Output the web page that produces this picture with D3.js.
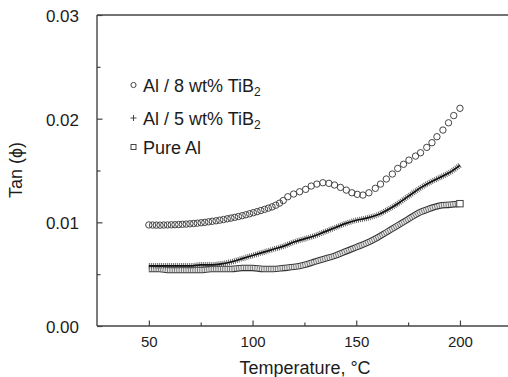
<!DOCTYPE html>
<html>
<head>
<meta charset="utf-8">
<script src="https://cdn.jsdelivr.net/npm/d3@7"></script>
<style>
  html, body { margin: 0; padding: 0; background: #fff; }
  svg { display: block; font-family: "Liberation Sans", Arial, sans-serif; }
</style>
</head>
<body>
<svg id="chart" width="508" height="377"></svg>
<script>
// Loss tangent vs temperature for Al and Al/TiB2 composites

// Al / 8 wt% TiB2 (open circles)
const tempsAl8 = [50.0, 51.8, 53.6, 55.4, 57.2, 59.0, 60.8, 62.6, 64.4, 66.2, 68.0, 69.8, 71.6, 73.4,
  75.2, 77.0, 78.8, 80.6, 82.4, 84.2, 86.0, 87.8, 89.6, 91.4, 93.2, 95.0, 96.8, 98.6, 100.4, 102.2,
  104.0, 105.8, 107.6, 109.4, 111.2, 113.0, 114.8, 117.0, 119.8, 122.7, 125.6, 128.3, 131.0, 133.9,
  136.8, 139.5, 142.4, 145.2, 147.9, 150.5, 153.2, 156.1, 159.2, 161.7, 164.5, 167.4, 170.0, 172.8,
  175.4, 178.6, 181.0, 184.0, 186.5, 188.9, 191.8, 194.5, 197.0, 200.0];
const tanAl8 = [0.00975, 0.00974, 0.00973, 0.00973, 0.00974, 0.00975, 0.00976, 0.00977, 0.00979,
  0.00981, 0.00983, 0.00986, 0.00989, 0.00992, 0.00996, 0.01000, 0.01005, 0.01010, 0.01015, 0.01021,
  0.01027, 0.01034, 0.01041, 0.01048, 0.01056, 0.01064, 0.01073, 0.01083, 0.01093, 0.01103, 0.01114,
  0.01125, 0.01137, 0.01149, 0.01165, 0.01185, 0.01210, 0.01247, 0.01273, 0.01295, 0.01318, 0.01350,
  0.01369, 0.01382, 0.01376, 0.01360, 0.01337, 0.01311, 0.01285, 0.01270, 0.01263, 0.01285, 0.01328,
  0.01369, 0.01418, 0.01466, 0.01520, 0.01560, 0.01600, 0.01639, 0.01671, 0.01723, 0.01768, 0.01826,
  0.01890, 0.01960, 0.02030, 0.02100];

// Al / 5 wt% TiB2 (plus signs)
const tempsAl5 = [50, 55, 60, 65, 70, 75, 80, 85, 90, 95, 100, 105, 110, 115, 120, 125, 130, 135,
  140, 145, 150, 155, 160, 165, 170, 175, 180, 185, 190, 195, 200];
const tanAl5 = [0.0058, 0.0058, 0.0058, 0.0058, 0.0058, 0.0059, 0.0059, 0.0060, 0.0062, 0.0065,
  0.0068, 0.0071, 0.0074, 0.0077, 0.0081, 0.0084, 0.0087, 0.0091, 0.0095, 0.0099, 0.0102, 0.0104,
  0.0107, 0.0112, 0.0118, 0.0125, 0.0132, 0.0138, 0.0143, 0.0148, 0.0155];

// Pure Al (open squares)
const tempsPure = [50, 55, 60, 65, 70, 75, 80, 85, 90, 95, 100, 105, 110, 115, 120, 125, 130, 135,
  140, 145, 150, 155, 160, 165, 170, 175, 180, 185, 190, 195, 200];
const tanPure = [0.0055, 0.0055, 0.0054, 0.0054, 0.0054, 0.0054, 0.0055, 0.0055, 0.0055, 0.0056,
  0.0056, 0.0055, 0.0055, 0.0056, 0.0057, 0.0059, 0.0062, 0.0065, 0.0068, 0.0072, 0.0076, 0.0080,
  0.0085, 0.0091, 0.0097, 0.0103, 0.0109, 0.0113, 0.0116, 0.0117, 0.0118];

const xTickValues = [50, 100, 150, 200];
const xMinorTicks = [75, 125, 175];
const yTickValues = [0, 0.01, 0.02, 0.03];
const yTickLabels = ["0.00", "0.01", "0.02", "0.03"];
const yMinorTicks = [0.005, 0.015, 0.025];

const legendLabels = ["Al / 8 wt% TiB", "Al / 5 wt% TiB", "Pure Al"];
const legendSubs = ["2", "2", ""];

const svg = d3.select("#chart");
const W = 508;
const plotLeft = 97, plotTop = 15, plotBottom = 326;

const x = d3.scaleLinear().domain([25, 225]).range([plotLeft, plotLeft + 200 * 2.074]);
const y = d3.scaleLinear().domain([0, 0.03]).range([plotBottom, plotTop]);

const ink = "#444";
const textColor = "#1c1c1c";

// axis frame: left, bottom and top lines
const gAxes = svg.append("g");
gAxes.append("line").attr("x1", plotLeft).attr("x2", plotLeft).attr("y1", plotTop).attr("y2", plotBottom)
  .attr("stroke", ink).attr("stroke-width", 1.4);
gAxes.append("line").attr("x1", plotLeft).attr("x2", W).attr("y1", plotBottom).attr("y2", plotBottom)
  .attr("stroke", ink).attr("stroke-width", 1.4);
gAxes.append("line").attr("x1", plotLeft).attr("x2", W).attr("y1", plotTop).attr("y2", plotTop)
  .attr("stroke", ink).attr("stroke-width", 1.4);

// x axis ticks (inward) and labels
const xAxis = d3.axisBottom(x).tickValues(xTickValues).tickSize(-5.5).tickFormat(d3.format("d"));
const gx = svg.append("g").attr("transform", `translate(0,${plotBottom})`).call(xAxis);
gx.select(".domain").remove();
gx.selectAll(".tick line").attr("stroke", ink).attr("stroke-width", 1.2);
gx.selectAll(".tick text").attr("fill", textColor).attr("font-size", 15)
  .attr("font-family", "Liberation Sans, Arial, sans-serif").attr("dy", 0).attr("y", 21);
const gxm = svg.append("g").attr("transform", `translate(0,${plotBottom})`)
  .call(d3.axisBottom(x).tickValues(xMinorTicks).tickSize(-3.5).tickFormat(""));
gxm.select(".domain").remove();
gxm.selectAll(".tick line").attr("stroke", ink).attr("stroke-width", 1.2);

// y axis ticks (inward) and labels
const yAxis = d3.axisLeft(y).tickValues(yTickValues).tickSize(-5.5)
  .tickFormat((d, i) => yTickLabels[i]);
const gy = svg.append("g").attr("transform", `translate(${plotLeft},0)`).call(yAxis);
gy.select(".domain").remove();
gy.selectAll(".tick line").attr("stroke", ink).attr("stroke-width", 1.2);
gy.selectAll(".tick text").attr("fill", textColor).attr("font-size", 17)
  .attr("font-family", "Liberation Sans, Arial, sans-serif").attr("x", -18).attr("dy", "0.38em");
const gym = svg.append("g").attr("transform", `translate(${plotLeft},0)`)
  .call(d3.axisLeft(y).tickValues(yMinorTicks).tickSize(-3.5).tickFormat(""));
gym.select(".domain").remove();
gym.selectAll(".tick line").attr("stroke", ink).attr("stroke-width", 1.2);

// axis titles
svg.append("text").attr("x", 305).attr("y", 374).attr("text-anchor", "middle")
  .attr("font-size", 18).attr("fill", textColor).text("Temperature, °C");
svg.append("text").attr("transform", "translate(22,170) rotate(-90)").attr("text-anchor", "middle")
  .attr("font-size", 18).attr("fill", textColor).text("Tan (\u03D5)");

const plot = svg.append("g");
const line = d3.line().curve(d3.curveMonotoneX);

// Pure Al: dense overlapping squares rendered as an outlined hatched band
const purePts = tempsPure.map((t, i) => [x(t), y(tanPure[i])]);
plot.append("path").attr("d", line(purePts)).attr("fill", "none")
  .attr("stroke", "#333").attr("stroke-width", 6.5);
plot.append("path").attr("d", line(purePts)).attr("fill", "none")
  .attr("stroke", "#e4e4e4").attr("stroke-width", 4.3);
plot.append("path").attr("d", line(purePts)).attr("fill", "none")
  .attr("stroke", "#666").attr("stroke-width", 4.3).attr("stroke-dasharray", "0.8,1.5");
const lastPure = purePts[purePts.length - 1];
plot.append("rect").attr("x", lastPure[0] - 3.2).attr("y", lastPure[1] - 3.2)
  .attr("width", 6.4).attr("height", 6.4).attr("fill", "#fff").attr("stroke", "#444").attr("stroke-width", 1);

// Al / 5 wt% TiB2: dense plus signs rendered as a hatched line
const al5Pts = tempsAl5.map((t, i) => [x(t), y(tanAl5[i])]);
plot.append("path").attr("d", line(al5Pts)).attr("fill", "none")
  .attr("stroke", "#555").attr("stroke-width", 5.5).attr("stroke-dasharray", "0.9,1.1");
plot.append("path").attr("d", line(al5Pts)).attr("fill", "none")
  .attr("stroke", "#111").attr("stroke-width", 1.7);

// Al / 8 wt% TiB2: open circles
plot.selectAll("circle.al8").data(tempsAl8).join("circle").attr("class", "al8")
  .attr("cx", d => x(d)).attr("cy", (d, i) => y(tanAl8[i])).attr("r", 3.2)
  .attr("fill", "none").attr("stroke", "#444").attr("stroke-width", 1);

// legend
const legendY = [85, 118, 147];
const lg = svg.append("g");
lg.append("circle").attr("cx", 133.5).attr("cy", legendY[0]).attr("r", 2.6)
  .attr("fill", "none").attr("stroke", "#444").attr("stroke-width", 1);
lg.append("path").attr("d", `M130.5,${legendY[1]}h6M133.5,${legendY[1] - 3}v6`)
  .attr("stroke", "#444").attr("stroke-width", 1);
lg.append("rect").attr("x", 131).attr("y", legendY[2] - 2.5).attr("width", 5).attr("height", 5)
  .attr("fill", "none").attr("stroke", "#444").attr("stroke-width", 1);
legendLabels.forEach((lab, i) => {
  const t = lg.append("text").attr("x", 143).attr("y", legendY[i] + 6.5)
    .attr("font-size", 18).attr("fill", textColor).text(lab);
  if (legendSubs[i]) {
    t.append("tspan").attr("font-size", 12).attr("dy", 4).text(legendSubs[i]);
  }
});
</script>
</body>
</html>
